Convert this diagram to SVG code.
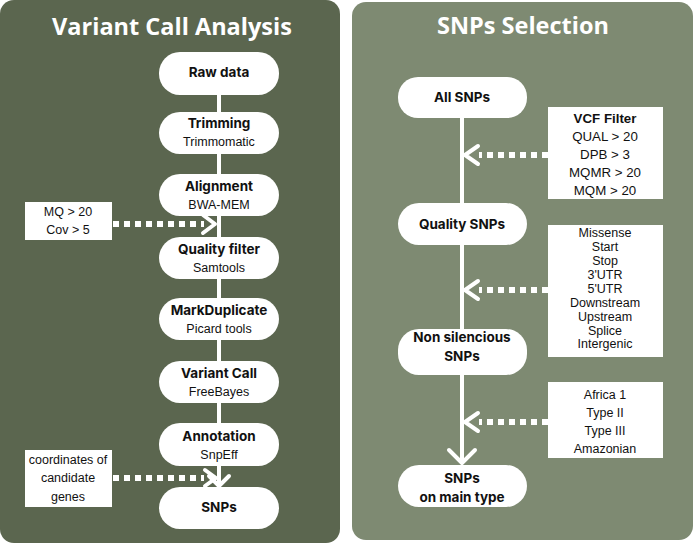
<svg xmlns="http://www.w3.org/2000/svg" width="695" height="546" viewBox="0 0 695 546">
<style>
.title{font-family:"Open Sans","Liberation Sans",sans-serif;font-weight:700;font-size:23.5px;fill:#fff;text-anchor:middle}
.node{fill:#fff}
.nt{font-family:Inter,"Liberation Sans",sans-serif;font-weight:700;font-size:13.5px;fill:#111;text-anchor:middle}
.ns{font-family:"Liberation Sans",Arial,sans-serif;font-size:12.5px;fill:#111;text-anchor:middle}
.box{fill:#fff}
.bt{font-family:"Liberation Sans",Arial,sans-serif;font-size:12.5px;fill:#111;text-anchor:middle}
.bt2{font-family:"Liberation Sans",Arial,sans-serif;font-size:13.3px;fill:#111;text-anchor:middle}
.line{stroke:#fff;stroke-width:4;fill:none}
.dot{stroke:#fff;stroke-width:6;stroke-dasharray:6 5;fill:none}
.chev{stroke:#fff;stroke-width:4;fill:none;stroke-linecap:round;stroke-linejoin:round}
</style>
<rect x="0" y="0" width="340" height="543" rx="14" fill="#5b664f"/>
<rect x="352" y="2" width="341" height="538" rx="14" fill="#7e8a72"/>
<text class="title" x="172" y="35">Variant Call Analysis</text>
<text class="title" x="523" y="34">SNPs Selection</text>
<g id="connectors">
<line class="line" x1="219" y1="73" x2="219" y2="486"/>
<polyline class="chev" points="209,476 219,486 229,476"/>
<line class="dot" x1="113" y1="224" x2="204" y2="224"/>
<polyline class="chev" points="203,215 215,224 203,233"/>
<line class="dot" x1="113" y1="478" x2="204" y2="478"/>
<polyline class="chev" points="205,470 216,478 205,486"/>
<line class="line" x1="462" y1="98" x2="462" y2="462"/>
<polyline class="chev" points="449,450 462,463 475,450"/>
<line class="dot" x1="548" y1="155" x2="479" y2="155"/>
<polyline class="chev" points="478,146 465,155 478,164"/>
<line class="dot" x1="548" y1="290" x2="479" y2="290"/>
<polyline class="chev" points="478,281 465,290 478,299"/>
<line class="dot" x1="548" y1="422" x2="479" y2="422"/>
<polyline class="chev" points="478,413 465,422 478,431"/>
</g>
<g id="raw"><rect class="node" x="159" y="52" width="120" height="43" rx="21"/><text class="nt" x="219" y="77">Raw data</text></g>
<g id="trimming"><rect class="node" x="159" y="112" width="120" height="42" rx="21"/><text class="nt" x="219" y="128">Trimming</text><text class="ns" x="219" y="146">Trimmomatic</text></g>
<g id="alignment"><rect class="node" x="159" y="174" width="120" height="42" rx="21"/><text class="nt" x="219" y="191">Alignment</text><text class="ns" x="219" y="209">BWA-MEM</text></g>
<g id="qfilter"><rect class="node" x="159" y="237" width="120" height="42" rx="21"/><text class="nt" x="219" y="254">Quality filter</text><text class="ns" x="219" y="272">Samtools</text></g>
<g id="markdup"><rect class="node" x="159" y="298" width="120" height="42" rx="21"/><text class="nt" x="219" y="315">MarkDuplicate</text><text class="ns" x="219" y="333">Picard tools</text></g>
<g id="varcall"><rect class="node" x="159" y="361" width="120" height="42" rx="21"/><text class="nt" x="219" y="378">Variant Call</text><text class="ns" x="219" y="396">FreeBayes</text></g>
<g id="annotation"><rect class="node" x="159" y="423" width="120" height="43" rx="21"/><text class="nt" x="219" y="441">Annotation</text><text class="ns" x="219" y="459">SnpEff</text></g>
<g id="snps"><rect class="node" x="159" y="487" width="120" height="42" rx="21"/><text class="nt" x="219" y="512">SNPs</text></g>
<g id="mqbox"><rect class="box" x="25" y="202" width="87" height="38"/><text class="bt" x="68" y="216">MQ &gt; 20</text><text class="bt" x="68" y="234">Cov &gt; 5</text></g>
<g id="coordbox"><rect class="box" x="25" y="450" width="87" height="57"/><text class="bt" x="68" y="464">coordinates of</text><text class="bt" x="68" y="482">candidate</text><text class="bt" x="68" y="501">genes</text></g>
<g id="allsnps"><rect class="node" x="398" y="77" width="129" height="41" rx="20"/><text class="nt" x="462" y="102">All SNPs</text></g>
<g id="qsnps"><rect class="node" x="398" y="203" width="129" height="42" rx="21"/><text class="nt" x="462" y="229">Quality SNPs</text></g>
<g id="nonsil"><rect class="node" x="398" y="329" width="129" height="46" rx="21"/><text class="nt" x="462" y="342">Non silencious</text><text class="nt" x="462" y="361">SNPs</text></g>
<g id="maintype"><rect class="node" x="398" y="465" width="129" height="42" rx="21"/><text class="nt" x="462" y="483">SNPs</text><text class="nt" x="462" y="502">on main type</text></g>
<g id="vcfbox"><rect class="box" x="548" y="107" width="115" height="92"/><text class="bt2" x="605" y="123" font-weight="700">VCF Filter</text><text class="bt2" x="605" y="141">QUAL &gt; 20</text><text class="bt2" x="605" y="159">DPB &gt; 3</text><text class="bt2" x="605" y="177">MQMR &gt; 20</text><text class="bt2" x="605" y="195">MQM &gt; 20</text></g>
<g id="effbox"><rect class="box" x="548" y="225" width="115" height="132"/><text class="bt" x="605" y="237">Missense</text><text class="bt" x="605" y="251">Start</text><text class="bt" x="605" y="265">Stop</text><text class="bt" x="605" y="279">3'UTR</text><text class="bt" x="605" y="293">5'UTR</text><text class="bt" x="605" y="307">Downstream</text><text class="bt" x="605" y="321">Upstream</text><text class="bt" x="605" y="335">Splice</text><text class="bt" x="605" y="348">Intergenic</text></g>
<g id="typebox"><rect class="box" x="548" y="382" width="115" height="76"/><text class="bt" x="605" y="399">Africa 1</text><text class="bt" x="605" y="417">Type II</text><text class="bt" x="605" y="435">Type III</text><text class="bt" x="605" y="453">Amazonian</text></g>
</svg>
